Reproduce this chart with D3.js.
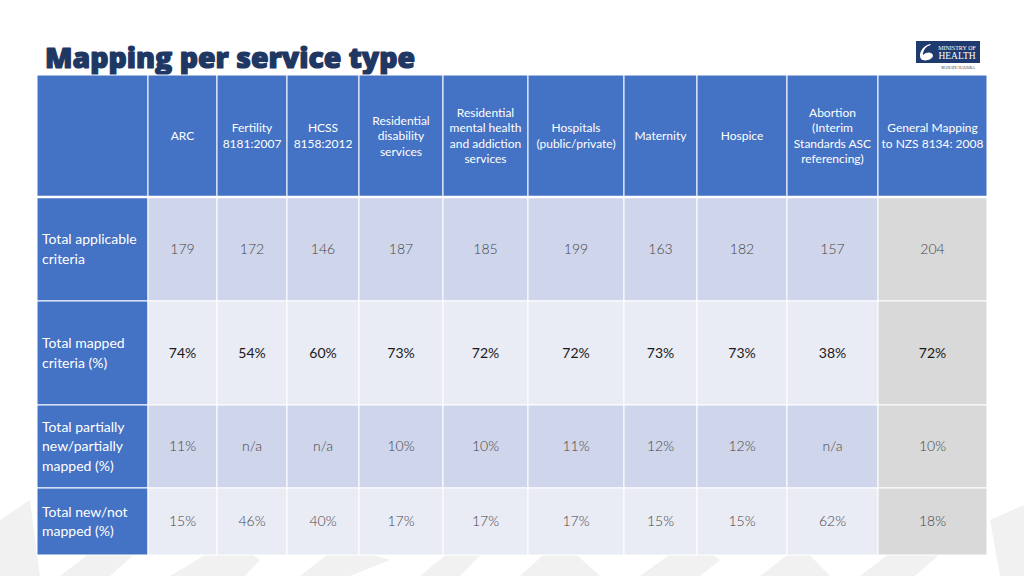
<!DOCTYPE html>
<html>
<head>
<meta charset="utf-8">
<script src="https://cdn.jsdelivr.net/npm/d3@7"></script>
<style>
  html, body { margin: 0; padding: 0; background: #fff; }
  svg { display: block; }
</style>
</head>
<body>
<svg id="chart" width="1024" height="576"></svg>
<script>
// ---------- data ----------
const title = "Mapping per service type";
const categories = [
  "ARC",
  "Fertility\n8181:2007",
  "HCSS\n8158:2012",
  "Residential\ndisability\nservices",
  "Residential\nmental health\nand addiction\nservices",
  "Hospitals\n(public/private)",
  "Maternity",
  "Hospice",
  "Abortion\n(Interim\nStandards ASC\nreferencing)",
  "General Mapping\nto NZS 8134: 2008"
];
const rowLabels = [
  "Total applicable\ncriteria",
  "Total mapped\ncriteria (%)",
  "Total partially\nnew/partially\nmapped (%)",
  "Total new/not\nmapped (%)"
];
const totalApplicable = ["179", "172", "146", "187", "185", "199", "163", "182", "157", "204"];
const totalMapped     = ["74%", "54%", "60%", "73%", "72%", "72%", "73%", "73%", "38%", "72%"];
const totalPartial    = ["11%", "n/a", "n/a", "10%", "10%", "11%", "12%", "12%", "n/a", "10%"];
const totalNew        = ["15%", "46%", "40%", "17%", "17%", "17%", "15%", "15%", "62%", "18%"];
const rowValues = [totalApplicable, totalMapped, totalPartial, totalNew];

// ---------- layout ----------
const colEdges = [37, 148, 217, 287, 359, 443, 528, 624, 697, 787, 878, 987];
const rowEdges = [75, 197, 301, 405, 488, 555];
const FONT = "'Segoe UI', Lato, 'Open Sans', sans-serif";

const svg = d3.select("#chart");

// background decorative pattern (faint)
const bg = svg.append("g").attr("fill", "#f1f1f1");
const bgShapes = [
  "M0,520 L30,500 L40,576 L0,576 Z",
  "M60,576 L120,530 L150,540 L110,576 Z",
  "M170,576 L230,540 L260,560 L245,576 Z",
  "M300,576 L340,545 L390,560 L350,576 Z",
  "M420,576 L470,535 L490,545 L460,576 Z",
  "M520,576 L560,540 L600,576 Z",
  "M640,576 L690,540 L720,560 L700,576 Z",
  "M760,576 L800,545 L830,576 Z",
  "M860,576 L920,530 L950,545 L915,576 Z",
  "M990,520 L1024,505 L1024,576 L1000,576 Z"
];
bg.selectAll("path").data(bgShapes).join("path").attr("d", d => d);

// title
svg.append("text")
  .attr("x", 45).attr("y", 68)
  .attr("font-family", "'Open Sans', 'DejaVu Sans', sans-serif")
  .attr("font-weight", 800)
  .attr("font-size", 28)
  .attr("fill", "#1f3763")
  .attr("stroke", "#1f3763")
  .attr("stroke-width", 1.2)
  .attr("stroke-linejoin", "round")
  .attr("textLength", 370)
  .attr("lengthAdjust", "spacingAndGlyphs")
  .text(title);

// logo
const logo = svg.append("g");
logo.append("rect").attr("x", 916).attr("y", 41).attr("width", 64).attr("height", 22).attr("fill", "#1f3a6e");
logo.append("path")
  .attr("d", "M930,44 C922,46 918,54 921,59 C924,62 932,60 933,56 C933,52 927,51 923,55 C923,50 926,46 931,45 Z")
  .attr("fill", "#fff");
logo.append("text").attr("x", 957).attr("y", 50).attr("text-anchor", "middle")
  .attr("font-family", "'Liberation Serif', serif").attr("font-size", 6).attr("fill", "#fff").text("MINISTRY OF");
logo.append("text").attr("x", 957).attr("y", 59).attr("text-anchor", "middle")
  .attr("font-family", "'Liberation Serif', serif").attr("font-size", 9.5).attr("fill", "#fff").text("HEALTH");
logo.append("text").attr("x", 958).attr("y", 68.5).attr("text-anchor", "middle")
  .attr("font-family", "'Liberation Serif', serif").attr("font-size", 3.8).attr("fill", "#333").text("MANATŪ HAUORA");

// scales
const nCols = categories.length + 1;
const xIdx = d3.scaleOrdinal().domain(d3.range(nCols)).range(colEdges.slice(0, nCols));
const xEnd = d3.scaleOrdinal().domain(d3.range(nCols)).range(colEdges.slice(1));
const yIdx = d3.scaleOrdinal().domain(d3.range(rowLabels.length + 1)).range(rowEdges.slice(0, -1));
const yEnd = d3.scaleOrdinal().domain(d3.range(rowLabels.length + 1)).range(rowEdges.slice(1));

// build cells
const cells = [];
cells.push({r: 0, c: 0, text: "", kind: "head"});
categories.forEach((cat, i) => cells.push({r: 0, c: i + 1, text: cat, kind: "head"}));
rowLabels.forEach((lab, ri) => {
  cells.push({r: ri + 1, c: 0, text: lab, kind: "label"});
  rowValues[ri].forEach((v, ci) => cells.push({r: ri + 1, c: ci + 1, text: v, kind: "value", row: ri, last: ci === categories.length - 1}));
});

function fillOf(d) {
  if (d.kind === "head" || d.kind === "label") return "#4472c4";
  if (d.last) return "#d9d9d9";
  return d.row % 2 === 0 ? "#cfd5ea" : "#e9ebf5";
}

const g = svg.append("g");
const cellG = g.selectAll("g.cell").data(cells).join("g").attr("class", "cell");
cellG.append("rect")
  .attr("x", d => xIdx(d.c))
  .attr("y", d => yIdx(d.r))
  .attr("width", d => xEnd(d.c) - xIdx(d.c))
  .attr("height", d => yEnd(d.r) - yIdx(d.r))
  .attr("fill", fillOf)
  .attr("stroke", "#ffffff")
  .attr("stroke-width", 1);

// header separator (thicker white line)
svg.append("line").attr("x1", colEdges[0]).attr("x2", colEdges[colEdges.length - 1])
  .attr("y1", rowEdges[1]).attr("y2", rowEdges[1]).attr("stroke", "#fff").attr("stroke-width", 2.5);

// text
cellG.each(function(d) {
  if (!d.text) return;
  const lines = d.text.split("\n");
  const sel = d3.select(this);
  const cy = (yIdx(d.r) + yEnd(d.r)) / 2;
  let fs, lh, anchor, x, fill, weight;
  if (d.kind === "head") {
    fs = 12; lh = 15.5; anchor = "middle"; x = (xIdx(d.c) + xEnd(d.c)) / 2; fill = "#ffffff"; weight = 400;
  } else if (d.kind === "label") {
    fs = 14; lh = 19.3; anchor = "start"; x = xIdx(d.c) + 5; fill = "#ffffff"; weight = 400;
  } else {
    fs = 14; lh = 18; anchor = "middle"; x = (xIdx(d.c) + xEnd(d.c)) / 2;
    fill = d.row === 1 ? "#1a1a1a" : "#454545"; weight = d.row === 1 ? 400 : 300;
  }
  const t = sel.append("text")
    .attr("text-anchor", anchor)
    .attr("font-family", FONT)
    .attr("font-size", fs)
    .attr("font-weight", weight)
    .attr("fill", fill);
  const y0 = cy - (lines.length - 1) * lh / 2 + fs * 0.35;
  lines.forEach((ln, i) => {
    t.append("tspan").attr("x", x).attr("y", y0 + i * lh).text(ln);
  });
});
</script>
</body>
</html>
